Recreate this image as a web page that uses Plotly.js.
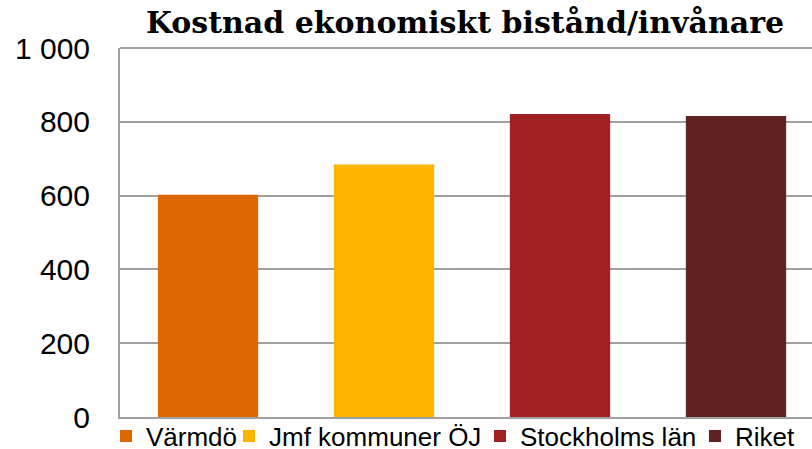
<!DOCTYPE html>
<html>
<head>
<meta charset="utf-8">
<script src="https://cdn.plot.ly/plotly-3.0.1.min.js"></script>
<style>
  body { margin: 0; background: #fff; }
  #wrap { width: 812px; height: 449px; overflow: hidden; }
</style>
</head>
<body>
<div id="wrap"><div id="plot1"></div></div>
<script>
var categories = ['Värmdö', 'Jmf kommuner ÖJ', 'Stockholms län', 'Riket'];
var values = [602, 684, 821, 816];
var barColors = ['#DC6900', '#FFB500', '#A12123', '#622322'];
// left edge (px) of each legend entry, one small legend per bar
var legendLeft = [106, 229, 480, 695];

var legendIds = ['legend', 'legend2', 'legend3', 'legend4'];

var data = categories.map(function (c, i) {
  return {
    x: [c],
    y: [values[i]],
    type: 'bar',
    name: c,
    width: 0.57,
    legend: legendIds[i],
    marker: { color: barColors[i] },
    hoverinfo: 'x+y'
  };
});

var W = 1000;
var plotW = 704, plotH = 369;
var layout = {
  width: W,
  height: 449,
  margin: { l: 120, r: W - 120 - plotW, t: 48, b: 32, autoexpand: false },
  paper_bgcolor: '#fff',
  plot_bgcolor: '#fff',
  barmode: 'overlay',
  separators: ', ',
  font: { family: 'Liberation Sans, Arial, sans-serif', color: '#000' },
  title: {
    text: '<b>Kostnad ekonomiskt bistånd/invånare</b>',
    font: { family: 'DejaVu Serif, Georgia, serif', size: 30, color: '#000' },
    x: 465 / W, xanchor: 'center', xref: 'container',
    y: 1 - 22 / 449, yanchor: 'middle', yref: 'container'
  },
  xaxis: {
    showticklabels: false,
    showgrid: false,
    showline: true,
    linecolor: '#A0A0A0',
    linewidth: 2,
    fixedrange: true
  },
  yaxis: {
    range: [0, 1000],
    dtick: 200,
    tickformat: ',',
    tickfont: { size: 30, family: 'Liberation Sans, Arial, sans-serif' },
    ticks: '',
    ticklabelstandoff: 22,
    showgrid: true,
    gridcolor: '#A0A0A0',
    gridwidth: 2,
    showline: true,
    linecolor: '#A0A0A0',
    linewidth: 2,
    zeroline: false,
    fixedrange: true
  },
  shapes: [{
    type: 'line', xref: 'paper', yref: 'paper',
    x0: 0, x1: 1, y0: 1, y1: 1,
    line: { color: '#A0A0A0', width: 2 }
  }],
  showlegend: true
};

legendIds.forEach(function (id, i) {
  layout[id] = {
    orientation: 'h',
    x: (legendLeft[i] - 120) / plotW, xanchor: 'left',
    y: -19 / plotH, yanchor: 'middle',
    font: { size: 26, family: 'Liberation Sans, Arial, sans-serif' },
    itemwidth: 30,
    bgcolor: 'rgba(0,0,0,0)'
  };
});

Plotly.newPlot('plot1', data, layout, { displayModeBar: false, staticPlot: true });
</script>
</body>
</html>
